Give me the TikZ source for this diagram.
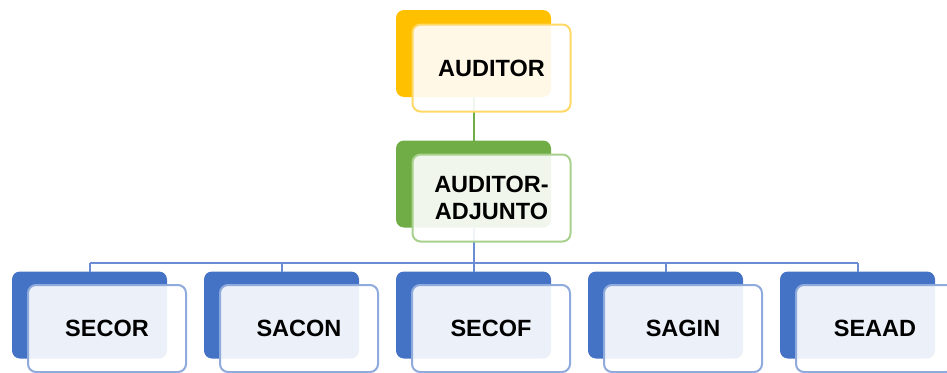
\documentclass[tikz,border=0pt]{standalone}
\usepackage{fontspec}
\setmainfont{Liberation Sans}
\newlength{\du}
\setlength{\du}{1pt}
\definecolor{goldback}{rgb}{1.000000, 0.752941, 0.000000}
\definecolor{goldline}{rgb}{1.000000, 0.850980, 0.400000}
\definecolor{greenback}{rgb}{0.439216, 0.678431, 0.278431}
\definecolor{greenline}{rgb}{0.662745, 0.819608, 0.556863}
\definecolor{blueback}{rgb}{0.266667, 0.447059, 0.768627}
\definecolor{blueline}{rgb}{0.560784, 0.666667, 0.862745}
\definecolor{bluelink}{rgb}{0.415686, 0.549020, 0.831373}
\tikzset{
  backbox/.style={rounded corners=8\du, minimum width=155\du, minimum height=87\du, inner sep=0pt, outer sep=0pt},
  frontbox/.style={rounded corners=8\du, line width=2\du, fill=white, fill opacity=0.9, text opacity=1,
    minimum width=158\du, minimum height=87\du, inner sep=0pt, outer sep=0pt, align=center,
    font=\bfseries\fontsize{23.5\du}{27\du}\selectfont},
  link/.style={line width=2\du}
}

\begin{document}
\begin{tikzpicture}
\pgftransformxscale{1.000000}
\pgftransformyscale{-1.000000}
\useasboundingbox (0\du,0\du) rectangle (947\du,372\du);
% back boxes
\node[backbox, fill=goldback] (auditorback) at (473.500000\du,53.500000\du) {};
\node[backbox, fill=greenback] (adjuntoback) at (473.500000\du,184.000000\du) {};
\node[backbox, fill=blueback] (secorback) at (89.500000\du,315.000000\du) {};
\node[backbox, fill=blueback] (saconback) at (281.500000\du,315.000000\du) {};
\node[backbox, fill=blueback] (secofback) at (473.500000\du,315.000000\du) {};
\node[backbox, fill=blueback] (saginback) at (665.500000\du,315.000000\du) {};
\node[backbox, fill=blueback] (seaadback) at (857.500000\du,315.000000\du) {};
% connectors
\coordinate (bus) at (473.500000\du,263.000000\du);
\draw[link, greenback] (auditorback.south) -- (adjuntoback.north);
\draw[link, bluelink] (adjuntoback.south) -- (bus);
\draw[link, bluelink] (bus -| secorback.north) -- (bus -| seaadback.north);
\foreach \unit in {secor,sacon,secof,sagin,seaad}
  \draw[link, bluelink] (bus -| \unit back.north) -- (\unit back.north);
% front boxes
\node[frontbox, draw=goldline] (auditor) at (491.500000\du,68.000000\du) {AUDITOR};
\node[frontbox, draw=greenline] (adjunto) at (491.500000\du,198.000000\du) {AUDITOR-\\ADJUNTO};
\node[frontbox, draw=blueline] (secor) at (107.000000\du,328.500000\du) {SECOR};
\node[frontbox, draw=blueline] (sacon) at (299.000000\du,328.500000\du) {SACON};
\node[frontbox, draw=blueline] (secof) at (491.000000\du,328.500000\du) {SECOF};
\node[frontbox, draw=blueline] (sagin) at (683.000000\du,328.500000\du) {SAGIN};
\node[frontbox, draw=blueline] (seaad) at (875.000000\du,328.500000\du) {SEAAD};
\end{tikzpicture}
\end{document}
